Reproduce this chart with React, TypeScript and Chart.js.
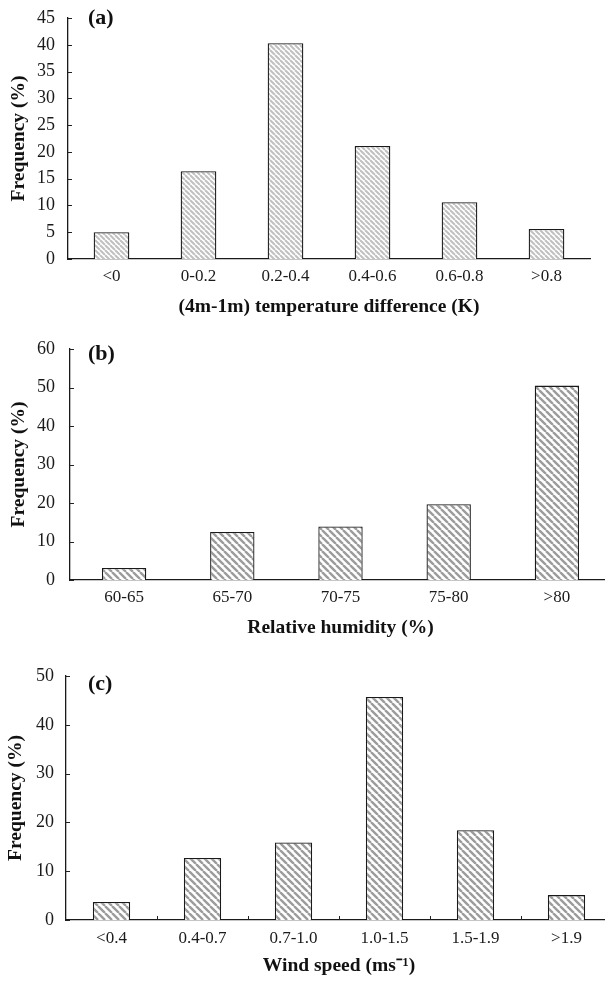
import React, { useEffect, useRef } from "react";
import { Chart, registerables } from "chart.js";

Chart.register(...registerables);

// ---------- data ----------
const tempLabels = ["<0", "0-0.2", "0.2-0.4", "0.4-0.6", "0.6-0.8", ">0.8"];
const tempFreq = [5.0, 16.4, 40.3, 21.1, 10.6, 5.6];

const rhLabels = ["60-65", "65-70", "70-75", "75-80", ">80"];
const rhFreq = [3.1, 12.5, 13.9, 19.7, 50.5];

const windLabels = ["<0.4", "0.4-0.7", "0.7-1.0", "1.0-1.5", "1.5-1.9", ">1.9"];
const windFreq = [3.7, 12.7, 15.9, 45.7, 18.4, 5.1];

const FONT = "'Liberation Serif', 'Times New Roman', serif";

function makeHatch(size: number, lw: number, color: string) {
  const c = document.createElement("canvas");
  c.width = size;
  c.height = size;
  const g = c.getContext("2d")!;
  g.fillStyle = "#ffffff";
  g.fillRect(0, 0, size, size);
  g.strokeStyle = color;
  g.lineWidth = lw;
  g.beginPath();
  for (let k = -1; k <= 1; k++) {
    g.moveTo(k * size, 0);
    g.lineTo(k * size + size, size);
  }
  g.stroke();
  return g.createPattern(c, "repeat")!;
}

const innerTicks = {
  id: "innerTicks",
  afterDraw(chart: any, _args: any, opts: any) {
    const { ctx, chartArea } = chart;
    const y = chart.scales.y;
    const x = chart.scales.x;
    ctx.save();
    ctx.strokeStyle = "#222";
    ctx.lineWidth = 1;
    y.ticks.forEach((t: any) => {
      const py = Math.round(y.getPixelForValue(t.value)) + 0.5;
      ctx.beginPath();
      ctx.moveTo(chartArea.left, py);
      ctx.lineTo(chartArea.left + 4, py);
      ctx.stroke();
    });
    if (opts && opts.xTicks) {
      const n = chart.data.labels.length;
      for (let i = 1; i < n; i++) {
        const px = Math.round((x.getPixelForValue(i - 1) + x.getPixelForValue(i)) / 2) + 0.5;
        ctx.beginPath();
        ctx.moveTo(px, chartArea.bottom);
        ctx.lineTo(px, chartArea.bottom - 4);
        ctx.stroke();
      }
    }
    ctx.restore();
  },
};

type PanelProps = {
  labels: string[];
  values: number[];
  yMax: number;
  yStep: number;
  xTitle: string;
  width: number;
  height: number;
  padTop: number;
  padRight: number;
  axisLeft: number;
  axisBottomH: number;
  yLabelPad: number;
  yTitlePad: number;
  xLabelPad: number;
  xTitlePadBottom: number;
  hatch: [number, number, string];
  xTicks: boolean;
};

function Panel(p: PanelProps) {
  const ref = useRef<HTMLCanvasElement>(null);
  useEffect(() => {
    const canvas = ref.current!;
    const pattern = makeHatch(p.hatch[0], p.hatch[1], p.hatch[2]);
    const chart = new Chart(canvas, {
      type: "bar",
      data: {
        labels: p.labels,
        datasets: [
          {
            data: p.values,
            backgroundColor: pattern as any,
            borderColor: "#1a1a1a",
            borderWidth: 1.3,
            categoryPercentage: 1,
            barPercentage: 0.41,
          },
        ],
      },
      options: {
        animation: false,
        responsive: false,
        maintainAspectRatio: false,
        devicePixelRatio: 1,
        layout: { padding: { top: p.padTop, right: p.padRight, left: 0, bottom: 0 } },
        plugins: {
          legend: { display: false },
          tooltip: { enabled: false },
          innerTicks: { xTicks: p.xTicks },
        } as any,
        scales: {
          x: {
            type: "category",
            offset: true,
            grid: { display: false },
            border: { display: true, color: "#1a1a1a", width: 1.3 },
            ticks: {
              color: "#1a1a1a",
              padding: p.xLabelPad,
              font: { family: FONT, size: 17 },
              maxRotation: 0,
              autoSkip: false,
            },
            title: {
              display: true,
              text: p.xTitle,
              color: "#111",
              font: { family: FONT, size: 19.5, weight: "bold" },
              padding: { top: 0, bottom: p.xTitlePadBottom },
            },
            afterFit: (s: any) => {
              s.height = p.axisBottomH;
            },
          },
          y: {
            min: 0,
            max: p.yMax,
            grid: { display: false },
            border: { display: true, color: "#1a1a1a", width: 1.3 },
            ticks: {
              stepSize: p.yStep,
              color: "#1a1a1a",
              padding: p.yLabelPad,
              font: { family: FONT, size: 18 },
            },
            title: {
              display: true,
              text: "Frequency (%)",
              color: "#111",
              font: { family: FONT, size: 19.5, weight: "bold" },
              padding: { top: p.yTitlePad, bottom: 0 },
            },
            afterFit: (s: any) => {
              s.width = p.axisLeft;
            },
          },
        },
      },
      plugins: [innerTicks],
    });
    return () => chart.destroy();
  }, []);
  return <canvas ref={ref} width={p.width} height={p.height} style={{ display: "block" }} />;
}

const letterStyle: React.CSSProperties = {
  position: "absolute",
  left: 88,
  fontFamily: FONT,
  fontWeight: "bold",
  fontSize: 22,
  lineHeight: "22px",
  color: "#111",
};

export default function App() {
  return (
    <div
      style={{
        position: "absolute",
        left: 0,
        top: 0,
        width: 605,
        height: 981,
        overflow: "hidden",
        background: "#fff",
      }}
    >
      <div style={{ position: "absolute", left: 0, top: 0 }}>
        <Panel
          labels={tempLabels}
          values={tempFreq}
          yMax={45}
          yStep={5}
          xTitle="(4m-1m) temperature difference (K)"
          width={605}
          height={320}
          padTop={18}
          padRight={15}
          axisLeft={68}
          axisBottomH={61}
          yLabelPad={5}
          yTitlePad={7}
          xLabelPad={-1}
          xTitlePadBottom={1}
          hatch={[5, 2, "#c0c0c0"]}
          xTicks={false}
        />
      </div>
      <div style={{ position: "absolute", left: 0, top: 320 }}>
        <Panel
          labels={rhLabels}
          values={rhFreq}
          yMax={60}
          yStep={10}
          xTitle="Relative humidity (%)"
          width={620}
          height={320}
          padTop={29}
          padRight={9}
          axisLeft={70}
          axisBottomH={60}
          yLabelPad={7}
          yTitlePad={7}
          xLabelPad={-1}
          xTitlePadBottom={0}
          hatch={[7, 2.4, "#9c9c9c"]}
          xTicks={false}
        />
      </div>
      <div style={{ position: "absolute", left: 0, top: 640 }}>
        <Panel
          labels={windLabels}
          values={windFreq}
          yMax={50}
          yStep={10}
          xTitle="Wind speed (ms⁻¹)"
          width={620}
          height={341}
          padTop={36}
          padRight={8}
          axisLeft={66}
          axisBottomH={61}
          yLabelPad={4}
          yTitlePad={4}
          xLabelPad={0}
          xTitlePadBottom={3}
          hatch={[7, 2.4, "#9c9c9c"]}
          xTicks={true}
        />
      </div>
      <div style={{ ...letterStyle, top: 6 }}>(a)</div>
      <div style={{ ...letterStyle, top: 342 }}>(b)</div>
      <div style={{ ...letterStyle, top: 672 }}>(c)</div>
    </div>
  );
}
